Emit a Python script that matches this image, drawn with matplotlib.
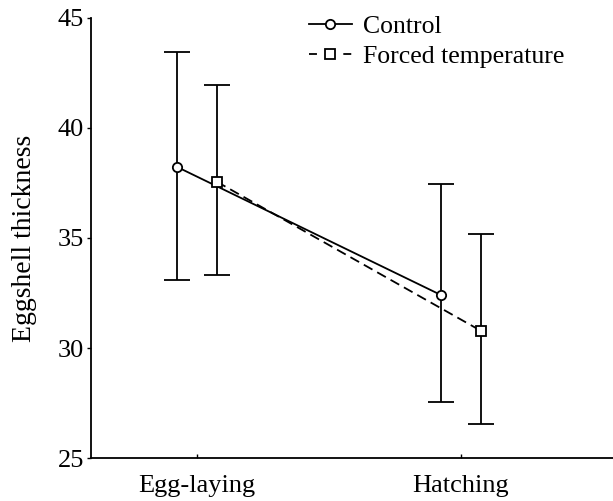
import numpy as np
import matplotlib.pyplot as plt
import matplotlib as mpl

stages = ['Egg-laying', 'Hatching']
control_mean = [38.23, 32.41]
control_low = [33.09, 27.57]
control_high = [43.45, 37.43]
forced_mean = [37.55, 30.78]
forced_low = [33.32, 26.56]
forced_high = [41.92, 35.16]

mpl.rcParams['font.family'] = ['Liberation Serif', 'DejaVu Serif']
mpl.rcParams['font.size'] = 19

x = np.arange(len(stages))
off = 0.076
lw = 1.3

fig = plt.figure(figsize=(6.13, 5.01), dpi=100)
ax = fig.add_axes([0.148, 0.0852, 0.852, 0.8798])

c_err = [np.array(control_mean) - np.array(control_low), np.array(control_high) - np.array(control_mean)]
f_err = [np.array(forced_mean) - np.array(forced_low), np.array(forced_high) - np.array(forced_mean)]

ax.errorbar(x - off, control_mean, yerr=c_err, fmt='none', ecolor='black',
            elinewidth=lw, capsize=9.7, capthick=lw, zorder=2)
ax.errorbar(x + off, forced_mean, yerr=f_err, fmt='none', ecolor='black',
            elinewidth=lw, capsize=9.7, capthick=lw, zorder=2)
ax.plot(x - off, control_mean, color='black', lw=lw, marker='o', ms=6.7,
        mfc='white', mec='black', mew=lw, label='Control', zorder=3)
ax.plot(x + off, forced_mean, color='black', lw=lw, ls=(0, (5.5, 3)), marker='s', ms=6.7,
        mfc='white', mec='black', mew=lw, label='Forced temperature', zorder=3)

ax.set_xlim(-0.401, 1.575)
ax.set_ylim(25, 45)
ax.set_yticks([25, 30, 35, 40, 45])
ax.set_xticks(x)
ax.set_xticklabels(stages)
ax.set_ylabel('Eggshell thickness', fontsize=20, labelpad=15)

for s in ['top', 'right']:
    ax.spines[s].set_visible(False)
for s in ['left', 'bottom']:
    ax.spines[s].set_linewidth(1.3)
ax.tick_params(axis='y', direction='out', length=3, width=1, pad=2)
ax.tick_params(axis='x', direction='in', length=3, width=1, pad=12)

leg = ax.legend(loc='upper left', bbox_to_anchor=(309 / 613, 0.97), bbox_transform=fig.transFigure,
                frameon=False, fontsize=18.5, handlelength=1.67, handletextpad=0.42,
                borderpad=0, borderaxespad=0, labelspacing=0.26)
# short dash either side of the square in the legend key
leg.get_lines()[1].set_linestyle((0, (4.4, 14.6)))

fig.savefig('out.png', dpi=100)
